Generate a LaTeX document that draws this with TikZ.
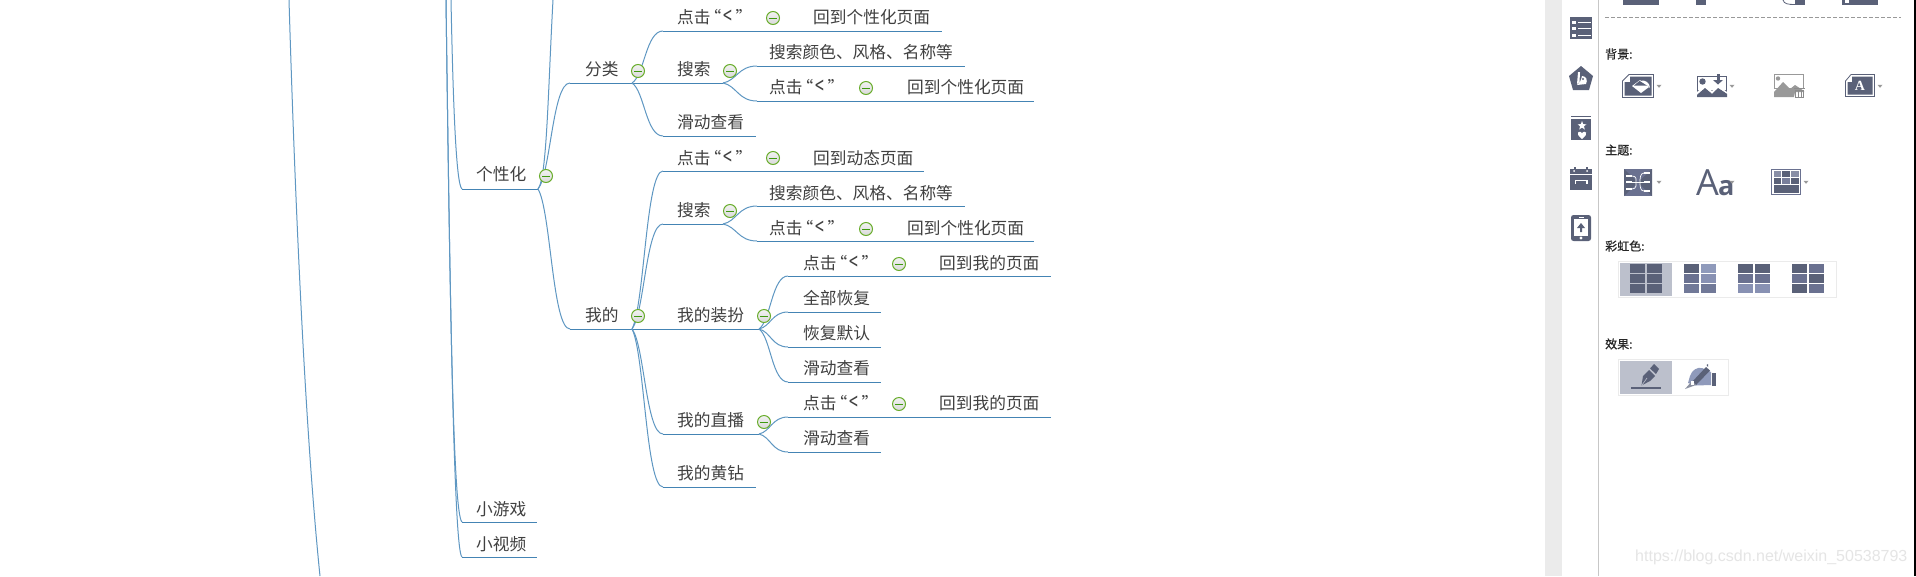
\documentclass[tikz,border=0pt]{standalone}
\usepackage{fontspec}
\usepackage{graphicx}
\setmainfont{Noto Sans CJK SC}
\newfontfamily\headfont[FakeBold=0.5]{Noto Sans CJK SC}
\newfontfamily\wmfont{Liberation Sans}
\newfontfamily\serifA{Liberation Serif}
\newfontfamily\aafont{Open Sans}
\usetikzlibrary{calc}
\definecolor{blueline}{HTML}{4484B4}
\definecolor{curve}{HTML}{5E97C2}
\definecolor{ic}{HTML}{5A6178}
\definecolor{icm}{HTML}{6A7190}
\definecolor{icl}{HTML}{8891B3}
\definecolor{icp}{HTML}{8F9ABB}
\definecolor{sel}{HTML}{BCC0CC}
\definecolor{tog}{HTML}{69AD2C}
\definecolor{togd}{HTML}{3F9A10}
\definecolor{txt}{HTML}{404040}
\tikzset{
  lab/.style={anchor=west,inner sep=0pt,yshift=-1pt,font=\fontsize{16.7}{17}\selectfont,text=txt,text height=13pt,text depth=3pt},
  plab/.style={anchor=west,inner sep=0pt,font=\headfont\fontsize{12}{12}\selectfont,text=black!85},
  under/.style={draw=blueline,line width=1pt},
  conn/.style={draw=curve,line width=1pt},
  toggle/.style={circle,draw=tog,line width=1pt,inner sep=0pt,minimum size=13pt,top color=white!95!black,bottom color=black!15,
    path picture={\draw[togd,line width=1pt] ([xshift=-4pt]path picture bounding box.center) -- ([xshift=4pt]path picture bounding box.center);}},
  drop/.style={fill=gray!80,draw=none},
  icf/.style={fill=ic,draw=none},
  icw/.style={fill=white,draw=none},
}
\newcommand\uline[4]{\coordinate (#1-s) at (#2,#3);\coordinate (#1-e) at (#4,#3);\draw[under] (#1-s) -- (#1-e);}
\newcommand\link[2]{\draw[conn] let \p1=(#1),\p2=(#2) in (#1) .. controls ({\x1+.4*(\x2-\x1)},{\y1+.15*(\y2-\y1)}) and ({\x1+.45*(\x2-\x1)},\y2) .. (#2);}
\newcommand\tl[4]{\node[lab] (#1) at (#2,#3) {#4};}
\newcommand\tg[3]{\node[toggle] (#1) at (#2,#3) {};}
\newcommand\dropat[2]{\fill[drop] (#1-2.5,#2-1.2) -- (#1+2.5,#2-1.2) -- (#1,#2+1.8) -- cycle;}
\newcommand\kk{点击\kern-6pt“\kern2pt\raisebox{-1.5pt}{\scalebox{.95}[1.45]{<}}\kern3.5pt”}
\begin{document}
\begin{tikzpicture}[x=1pt,y=-1pt]
\useasboundingbox (0,0) rectangle (1916,576);
\fill[white] (0,0) rectangle (1916,576);
% trunk lines
\coordinate (l1a) at (289,0);\coordinate (l1b) at (320,576);
\draw[conn] (l1a) .. controls (295,200) and (305,430) .. (l1b);
\coordinate (t1) at (446,0);\coordinate (t2) at (451,0);\coordinate (up) at (553,0);
% level 1
\uline{gxh}{462}{189}{538}
\uline{yx}{462}{522}{537}
\uline{sp}{462}{557}{537}
\draw[conn] (t1) .. controls (450,300) and (453,515) .. (yx-s);
\draw[conn] (t1) .. controls (450,300) and (454,552) .. (sp-s);
\draw[conn] (t2) .. controls (453,100) and (456,185) .. (gxh-s);
\draw[conn] (gxh-e) .. controls (547,178) and (548,90) .. (up);
% level 2
\uline{fl}{570}{83}{632}
\uline{wd}{570}{329}{632}
\link{gxh-e}{fl-s}
\link{gxh-e}{wd-s}
% fenlei children
\uline{a1}{663}{31}{942}
\uline{a2}{632}{83}{723}
\uline{a3}{663}{136}{756}
\link{fl-e}{a1-s}
\link{fl-e}{a3-s}
\uline{a21}{757}{66}{965}
\uline{a22}{757}{101}{1034}
\link{a2-e}{a21-s}
\link{a2-e}{a22-s}
% wode children
\uline{b1}{663}{171}{924}
\uline{b2}{663}{224}{723}
\uline{b3}{632}{329}{759}
\uline{b4}{663}{434}{759}
\uline{b5}{663}{487}{756}
\link{wd-e}{b1-s}
\link{wd-e}{b2-s}
\link{wd-e}{b4-s}
\link{wd-e}{b5-s}
\uline{b21}{757}{206}{965}
\uline{b22}{757}{241}{1034}
\link{b2-e}{b21-s}
\link{b2-e}{b22-s}
\uline{c1}{788}{276}{1051}
\uline{c2}{788}{312}{881}
\uline{c3}{788}{347}{881}
\uline{c4}{788}{382}{881}
\link{b3-e}{c1-s}
\link{b3-e}{c2-s}
\link{b3-e}{c3-s}
\link{b3-e}{c4-s}
\uline{d1}{788}{417}{1051}
\uline{d2}{788}{452}{881}
\link{b4-e}{d1-s}
\link{b4-e}{d2-s}
% toggles
\tg{tgxh}{546}{176}
\tg{tfl}{638}{71}
\tg{twd}{638}{316}
\tg{ta1}{773}{18}
\tg{ta2}{730}{71}
\tg{ta22}{866}{88}
\tg{tb1}{773}{158}
\tg{tb2}{730}{211}
\tg{tb22}{866}{229}
\tg{tb3}{764}{316}
\tg{tc1}{899}{264}
\tg{tb4}{764}{422}
\tg{td1}{899}{404}
% labels
\tl{Lgxh}{476}{174}{个性化}
\tl{Lyx}{476}{509}{小游戏}
\tl{Lsp}{476}{544}{小视频}
\tl{Lfl}{585}{69}{分类}
\tl{Lwd}{585}{315}{我的}
\tl{La1}{677}{17}{\kk}
\tl{La1b}{813}{17}{回到个性化页面}
\tl{La2}{677}{69}{搜索}
\tl{La21}{769}{52}{搜索颜色、风格、名称等}
\tl{La22}{769}{87}{\kk}
\tl{La22b}{907}{87}{回到个性化页面}
\tl{La3}{677}{122}{滑动查看}
\tl{Lb1}{677}{158}{\kk}
\tl{Lb1b}{813}{158}{回到动态页面}
\tl{Lb2}{677}{210}{搜索}
\tl{Lb21}{769}{193}{搜索颜色、风格、名称等}
\tl{Lb22}{769}{228}{\kk}
\tl{Lb22b}{907}{228}{回到个性化页面}
\tl{Lb3}{677}{315}{我的装扮}
\tl{Lc1}{803}{263}{\kk}
\tl{Lc1b}{939}{263}{回到我的页面}
\tl{Lc2}{803}{298}{全部恢复}
\tl{Lc3}{803}{333}{恢复默认}
\tl{Lc4}{803}{368}{滑动查看}
\tl{Lb4}{677}{420}{我的直播}
\tl{Ld1}{803}{403}{\kk}
\tl{Ld1b}{939}{403}{回到我的页面}
\tl{Ld2}{803}{438}{滑动查看}
\tl{Lb5}{677}{473}{我的黄钻}
% right panel
\fill[black!8] (1545,0) rectangle (1562,576);
\draw[black!22,line width=1pt] (1598.5,0) -- (1598.5,576);
\fill[black] (1914,0) rectangle (1916,576);
% cut-off icons at top
\fill[icf] (1623,0) rectangle (1659,5);
\fill[icf] (1696,0) rectangle (1706,5);
\fill[icf] (1795,0) rectangle (1805,5);
\draw[ic,line width=.8pt] (1783,0) .. controls (1784,4) and (1788,4.5) .. (1795,4.5);
\fill[icf] (1842,0) rectangle (1878,5);
\fill[white] (1845,0) rectangle (1849,3);
\draw[black!40,dash pattern=on 4pt off 2pt,line width=.8pt] (1605,17.5) -- (1901,17.5);
% side tabs: list
\fill[icf] (1570,17) rectangle (1592,39);
\foreach \yy in {22,28.5,35}{\fill[white] (1572,\yy-1.5) rectangle (1575.5,\yy+1.5);\fill[white] (1577.5,\yy-.5) rectangle (1590.5,\yy+.5);}
% pentagon
\fill[icf] (1581,66) -- (1593,76) -- (1589,90) -- (1573,90) -- (1569,76) -- cycle;
\fill[white] (1578,72) -- (1580,72) -- (1579.5,82) -- (1577,84) -- cycle;
\fill[white] (1582,76) .. controls (1586,76) and (1588,80) .. (1586,84) -- (1577,85) .. controls (1580,83) and (1581,80) .. (1582,76) -- cycle;
\fill[icf] (1583,79) circle (1.2pt);
% bookmark
\draw[ic,line width=.8pt] (1571,116.5) -- (1591,116.5);
\fill[icf] (1571,118.5) rectangle (1591,140);
\fill[white] (1582,121) -- (1583.2,124.2) -- (1586.5,124.3) -- (1583.9,126.3) -- (1584.8,129.5) -- (1582,127.6) -- (1579.2,129.5) -- (1580.1,126.3) -- (1577.5,124.3) -- (1580.8,124.2) -- cycle;
\fill[white] (1582,139) .. controls (1578,135.5) and (1577,134) .. (1578,132.5) .. controls (1579,131.2) and (1581,131.5) .. (1582,133) .. controls (1583,131.5) and (1585,131.2) .. (1586,132.5) .. controls (1587,134) and (1586,135.5) .. (1582,139) -- cycle;
% calendar
\fill[icf] (1570,169) rectangle (1592,190);
\fill[icf] (1574,167) rectangle (1576,169);\fill[icf] (1586,167) rectangle (1588,169);
\fill[white] (1570,174) rectangle (1592,175);
\fill[white] (1574,171) circle (1pt);\fill[white] (1587,171) circle (1pt);
\fill[white] (1574.5,179.5) rectangle (1587.5,181);
\fill[white] (1574.5,179.5) rectangle (1576,184);\fill[white] (1586,179.5) rectangle (1587.5,184);
% phone
\fill[icf,rounded corners=2.5pt] (1571,215) rectangle (1591,241);
\fill[white] (1574,219) rectangle (1588,235.5);
\fill[white] (1578.5,216.5) rectangle (1583.5,217.3);
\fill[white] (1581,238) circle (1.6pt);
\fill[icf] (1581,223) -- (1585,228) -- (1582,228) -- (1582,232) -- (1580,232) -- (1580,228) -- (1577,228) -- cycle;
% headings
\node[plab] (hbg) at (1605,54) {背景:};
\node[plab] (hzt) at (1605,150) {主题:};
\node[plab] (hch) at (1605,246) {彩虹色:};
\node[plab] (hxg) at (1605,344) {效果:};
% background icons: paint
\draw[ic,line width=.8pt] (1629,74.5) -- (1653.5,74.5) -- (1653.5,97.5) -- (1622.5,97.5) -- (1622.5,81) -- cycle;
\fill[icf] (1630,76.5) -- (1651.5,76.5) -- (1651.5,95.5) -- (1624.5,95.5) -- (1624.5,82) -- (1630,82) -- cycle;
\fill[white] (1640,80) -- (1649,87) -- (1641,93) -- (1632,86) -- cycle;
\fill[icf] (1634,85.5) -- (1647,85.5) -- (1640,80.5) -- cycle;
\fill[white] (1640,81) .. controls (1645,79) and (1650,83) .. (1650,88) -- (1648,86) -- cycle;
\dropat{1659}{86}
% image + download
\fill[icf] (1697,76) rectangle (1727,97);
\fill[white] (1698,77) rectangle (1726,90);
\fill[icf] (1702.5,81.5) circle (3.2pt);
\fill[icf] (1716.5,74) rectangle (1719.5,80);
\fill[icf] (1713,80) -- (1723,80) -- (1718,84.5) -- cycle;
\fill[white] (1697,92) -- (1705,85) -- (1712,91) -- (1718,85.5) -- (1727,92) -- (1727,94) -- (1718,88) -- (1712,94) -- (1705,88) -- (1697,95) -- cycle;
\fill[icf] (1697,95) -- (1705,88) -- (1712,94) -- (1718,88) -- (1727,94) -- (1727,97) -- (1697,97) -- cycle;
\dropat{1732}{86}
% image + trash
\draw[black!40,line width=.8pt] (1774.5,74.5) rectangle (1803.5,88);
\fill[black!40] (1778,78.5) circle (2.2pt);
\fill[black!40] (1774,97) -- (1774,92) -- (1783,82) -- (1790,89) -- (1795,85) -- (1804,91) -- (1804,92) -- (1795,92) -- (1794,97) -- cycle;
\draw[black!45,line width=.7pt] (1795.5,90.5) rectangle (1803.5,97);
\draw[black!45,line width=.7pt] (1794,88.5) -- (1805,88.5);
\draw[black!45,line width=.5pt] (1798,91) -- (1798,96.5) (1801,91) -- (1801,96.5);
% text icon
\draw[ic,line width=.8pt] (1851,74.5) -- (1874.5,74.5) -- (1874.5,96.5) -- (1845.5,96.5) -- (1845.5,81) -- cycle;
\fill[icf] (1852,76.5) -- (1872.5,76.5) -- (1872.5,94.5) -- (1847.5,94.5) -- (1847.5,82) -- (1852,82) -- cycle;
\node[inner sep=0pt,text=white,font=\serifA\fontsize{14}{14}\selectfont\bfseries] (ticon) at (1860,85.5) {A};
\dropat{1880}{86}
% theme icon 1
\fill[icm] (1624,169) rectangle (1652,196);
\fill[ic] (1624,169) -- (1638,182.5) -- (1624,196) -- cycle;
\fill[ic] (1652,169) -- (1638,182.5) -- (1652,196) -- cycle;
\foreach \xx/\yy in {1626/176,1626/182,1626/189,1644/173,1644/182,1644/191}{\fill[white] (\xx,\yy-1) rectangle (\xx+6,\yy+1);}
\draw[white,line width=.7pt] (1632,176) .. controls (1637,176) and (1636,180) .. (1636,182) .. controls (1636,184) and (1637,189) .. (1632,189);
\draw[white,line width=.7pt] (1644,173) .. controls (1640,173) and (1640,179) .. (1640,182) .. controls (1640,186) and (1640,191) .. (1644,191);
\draw[white,line width=.7pt] (1632,182) -- (1644,182);
\dropat{1659}{182}
% Aa
\node[inner sep=0pt,anchor=base west,text=ic,font=\aafont] (taa) at (1696,195) {\fontsize{36}{36}\selectfont A\kern-1pt\fontsize{27}{27}\selectfont\bfseries a};
\dropat{1732}{182}
% table icon
\draw[icm,line width=1pt] (1771.5,169.5) rectangle (1800.5,194.5);
\fill[icm!80!white] (1773.5,171) rectangle (1781,177);\fill[ic] (1782,171) rectangle (1790,177);\fill[icm!80!white] (1791,171) rectangle (1799,177);
\fill[ic] (1773.5,178) rectangle (1781,184);\fill[icm!90!white] (1782,178) rectangle (1790,184);\fill[ic] (1791,178) rectangle (1799,184);
\fill[ic] (1773.5,185) rectangle (1799,193);
\dropat{1806}{182}
% rainbow
\draw[black!8,line width=1pt] (1618.5,261.5) rectangle (1836.5,297.5);
\fill[sel] (1620,263) rectangle (1672,296);
\newcommand\grid[8]{%
  \fill[#3] (#1,264) rectangle (#1+15,273);\fill[#4] (#2,264) rectangle (#2+15,273);
  \fill[#5] (#1,274) rectangle (#1+15,283);\fill[#6] (#2,274) rectangle (#2+15,283);
  \fill[#7] (#1,284) rectangle (#1+15,293);\fill[#8] (#2,284) rectangle (#2+15,293);}
\grid{1630}{1647}{ic}{ic}{ic}{ic}{ic}{ic}
\grid{1684}{1701}{ic}{icp}{icm}{icl}{icm!80!icp}{icm!80!icp}
\grid{1738}{1755}{ic}{ic}{icm}{icm}{icl}{icl}
\grid{1792}{1809}{ic}{icm}{icm}{ic}{ic}{icm}
% effects
\draw[black!8,line width=1pt] (1618.5,359.5) rectangle (1728.5,395.5);
\fill[sel] (1620,361) rectangle (1672,394);
\fill[icf] (1631,387) rectangle (1661,389);
\fill[icf] (1641.5,385.5) -- (1643,376) -- (1649,370) -- (1655,376) -- (1650,381) -- cycle;
\fill[icf] (1650,368.5) -- (1654,364) -- (1659,369) -- (1656,374) -- cycle;
\draw[sel,line width=.6pt] (1642,385) -- (1647,378);
\fill[icp] (1690,376) .. controls (1692,370) and (1697,367) .. (1702,368) -- (1711,372) -- (1711,385) -- (1696,385.5) -- (1688,383) -- cycle;
\fill[icf] (1692,382) -- (1706,367) -- (1710,370.5) -- (1696,385) -- cycle;
\fill[icf] (1706.5,365) -- (1708,364) -- (1708,367) -- cycle;
\fill[ic!70!white] (1685,389) -- (1692,381) -- (1696,385) -- cycle;
\fill[white] (1691,381) rectangle (1694,385);
\fill[icf] (1712,373) rectangle (1716,386);
% watermark
\node[anchor=west,inner sep=0pt,text=black!10,font=\wmfont\fontsize{16}{16}\selectfont] (wm) at (1635,557) {https://blog.csdn.net/weixin\_50538793};
\end{tikzpicture}
\end{document}
